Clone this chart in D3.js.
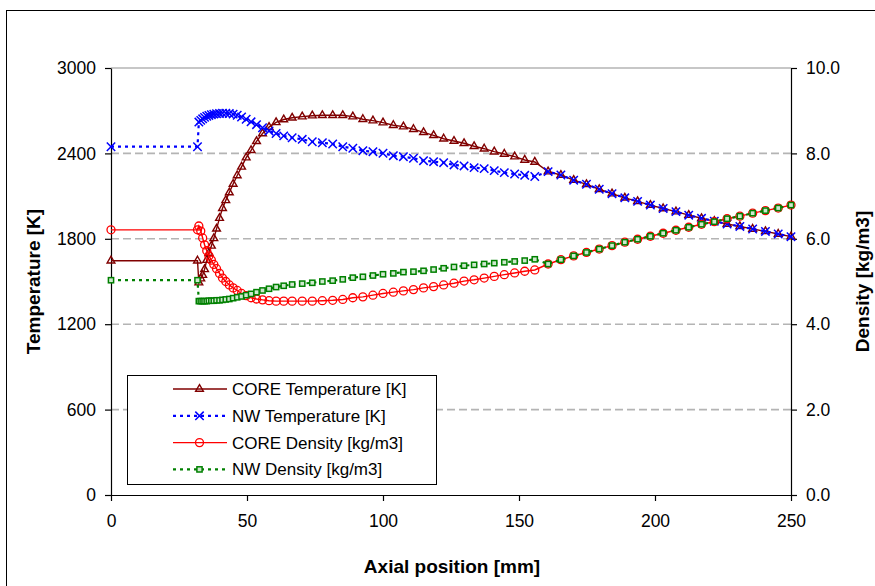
<!DOCTYPE html>
<html>
<head>
<meta charset="utf-8">
<script src="https://cdn.jsdelivr.net/npm/d3@7"></script>
<style>
  body { margin: 0; background: #fff; }
  svg { display: block; }
  text { font-family: "Liberation Sans", Arial, Helvetica, sans-serif; fill: #000; }
</style>
</head>
<body>
<svg id="chart" width="875" height="586"></svg>
<script>
// Axial positions [mm]: inlet section, then the computed flow nodes
const inletMm = [0, 31.8];
const flowMm = [
  32.3, 33.0, 33.7, 34.4, 35.2, 36.0, 36.9, 37.8, 38.8, 39.9, 41.0, 42.2,
  43.5, 44.9, 46.4, 48.0, 49.7, 51.5, 53.5, 55.7, 58.1, 60.7, 63.5, 66.6,
  70.3, 74.0, 77.7, 81.5, 85.2, 88.9, 92.6, 96.3, 100.0, 103.8, 107.5, 111.2,
  114.9, 118.6, 122.3, 126.1, 129.8, 133.5, 137.2, 140.9, 144.6, 148.4, 152.1, 155.8,
  160.7, 165.4, 170.1, 174.8, 179.5, 184.2, 188.9, 193.6, 198.3, 203.0,
  207.7, 212.4, 217.1, 221.8, 226.5, 231.2, 235.9, 240.6, 245.3, 250.0
];

// CORE temperature [K]
const coreTempInlet = [1646, 1646];
const coreTemp = [
  1492, 1520, 1545, 1585, 1650, 1700, 1750, 1803, 1870, 1945, 2015, 2070,
  2125, 2185, 2245, 2305, 2370, 2422, 2485, 2540, 2585, 2618, 2638, 2650,
  2658, 2665, 2668, 2668, 2668, 2658, 2640, 2630, 2616, 2598, 2588, 2570,
  2548, 2527, 2503, 2487, 2471, 2450, 2433, 2412, 2396, 2377, 2354, 2340,
  2272, 2248, 2212, 2183, 2148, 2117, 2088, 2063, 2037, 2013,
  1991, 1966, 1944, 1924, 1904, 1887, 1869, 1852, 1834, 1815
];

// NW temperature [K]
const nwTempInlet = [2447, 2447];
const nwTemp = [
  2620, 2632, 2643, 2653, 2661, 2667, 2672, 2676, 2679, 2681, 2682, 2682,
  2680, 2676, 2668, 2656, 2640, 2622, 2602, 2580, 2558, 2540, 2523, 2510,
  2499, 2482, 2475, 2466, 2447, 2436, 2419, 2412, 2401, 2384, 2377, 2366,
  2349, 2342, 2335, 2319, 2312, 2300, 2293, 2279, 2265, 2255, 2246, 2238,
  2272, 2248, 2212, 2183, 2148, 2117, 2088, 2063, 2037, 2013,
  1991, 1966, 1944, 1924, 1904, 1887, 1869, 1852, 1834, 1815
];

// CORE density [kg/m3]
const coreDensInlet = [6.21, 6.21];
const coreDens = [
  6.30, 6.18, 6.02, 5.86, 5.72, 5.60, 5.50, 5.40, 5.30, 5.19, 5.08, 5.00,
  4.92, 4.85, 4.79, 4.72, 4.67, 4.62, 4.59, 4.57, 4.55, 4.54, 4.54, 4.54,
  4.54, 4.54, 4.55, 4.56, 4.58, 4.62, 4.64, 4.68, 4.72, 4.75, 4.78, 4.81,
  4.85, 4.88, 4.92, 4.96, 5.01, 5.04, 5.08, 5.12, 5.16, 5.20, 5.24, 5.27,
  5.41, 5.51, 5.60, 5.68, 5.76, 5.84, 5.92, 5.99, 6.06, 6.13,
  6.20, 6.27, 6.34, 6.40, 6.47, 6.53, 6.60, 6.66, 6.72, 6.79
];

// NW density [kg/m3]
const nwDensInlet = [5.03, 5.03];
const nwDens = [
  4.54, 4.54, 4.54, 4.54, 4.54, 4.55, 4.55, 4.55, 4.56, 4.56, 4.57, 4.58,
  4.59, 4.61, 4.63, 4.65, 4.68, 4.71, 4.75, 4.79, 4.83, 4.87, 4.90, 4.93,
  4.95, 4.97, 5.00, 5.02, 5.05, 5.09, 5.11, 5.14, 5.17, 5.19, 5.22, 5.23,
  5.25, 5.28, 5.31, 5.34, 5.37, 5.39, 5.41, 5.43, 5.45, 5.47, 5.49, 5.52,
  5.41, 5.51, 5.60, 5.68, 5.76, 5.84, 5.92, 5.99, 6.06, 6.13,
  6.20, 6.27, 6.34, 6.40, 6.47, 6.53, 6.60, 6.66, 6.72, 6.79
];

// Tick labels
const xTicks = [0, 50, 100, 150, 200, 250];
const tempTicks = [0, 600, 1200, 1800, 2400, 3000];
const densTicks = [0, 2, 4, 6, 8, 10];

const svg = d3.select("#chart");
const plot = { left: 111, right: 791, top: 68, bottom: 495 };

const x = d3.scaleLinear().domain([0, 250]).range([plot.left, plot.right]);
const yT = d3.scaleLinear().domain([0, 3000]).range([plot.bottom, plot.top]);
const yD = d3.scaleLinear().domain([0, 10]).range([plot.bottom, plot.top]);

// chart area frame
svg.append("rect").attr("x", 6.5).attr("y", 10.5).attr("width", 900).attr("height", 600)
  .attr("fill", "#fff").attr("stroke", "#000").attr("stroke-width", 1);

// horizontal gridlines on the temperature ticks
svg.append("g").selectAll("line").data(tempTicks.filter(t => t > 0)).join("line")
  .attr("x1", plot.left).attr("x2", plot.right)
  .attr("y1", d => yT(d)).attr("y2", d => yT(d))
  .attr("stroke", "#b4b4b4").attr("stroke-width", 1.6)
  .attr("stroke-dasharray", d => d === 3000 ? null : "8,4");

// axes
const fontSize = 17.5;
const axL = svg.append("g").attr("transform", `translate(${plot.left},0)`)
  .call(d3.axisLeft(yT).tickValues(tempTicks).tickSize(6).tickSizeOuter(0).tickPadding(9).tickFormat(d3.format("d")));
const axR = svg.append("g").attr("transform", `translate(${plot.right},0)`)
  .call(d3.axisRight(yD).tickValues(densTicks).tickSize(6).tickSizeOuter(0).tickPadding(9).tickFormat(d3.format(".1f")));
const axB = svg.append("g").attr("transform", `translate(0,${plot.bottom})`)
  .call(d3.axisBottom(x).tickValues(xTicks).tickSize(6).tickSizeOuter(0).tickPadding(14).tickFormat(d3.format("d")));
[axL, axR, axB].forEach(g => {
  g.selectAll("path.domain").attr("stroke", "#000").attr("stroke-width", 1.2);
  g.selectAll(".tick line").attr("stroke", "#000").attr("stroke-width", 1.2);
  g.selectAll(".tick text").attr("font-size", fontSize).attr("fill", "#000")
    .style("font-family", '"Liberation Sans", Arial, sans-serif');
});

// axis titles
svg.append("text").attr("transform", `translate(40,${(plot.top + plot.bottom) / 2}) rotate(-90)`)
  .attr("text-anchor", "middle").attr("font-size", 19).attr("font-weight", "bold")
  .text("Temperature [K]");
svg.append("text").attr("transform", `translate(869,${(plot.top + plot.bottom) / 2}) rotate(-90)`)
  .attr("text-anchor", "middle").attr("font-size", 19).attr("font-weight", "bold")
  .text("Density [kg/m3]");
svg.append("text").attr("x", 452).attr("y", 573)
  .attr("text-anchor", "middle").attr("font-size", 19).attr("font-weight", "bold")
  .text("Axial position [mm]");

// marker painters
function drawTriangle(g, px, py, color) {
  g.append("path").attr("transform", `translate(${px},${py})`)
    .attr("d", d3.symbol(d3.symbolTriangle, 26)())
    .attr("fill", "none").attr("stroke", color).attr("stroke-width", 1.4);
}
function drawCross(g, px, py, color) {
  const s = 4.2;
  g.append("path").attr("d", `M${px - s},${py - s}L${px + s},${py + s}M${px - s},${py + s}L${px + s},${py - s}`)
    .attr("stroke", color).attr("stroke-width", 1.5).attr("fill", "none");
}
function drawCircle(g, px, py, color) {
  g.append("circle").attr("cx", px).attr("cy", py).attr("r", 4)
    .attr("fill", "none").attr("stroke", color).attr("stroke-width", 1.3);
}
function drawSquare(g, px, py, color) {
  g.append("rect").attr("x", px - 2.6).attr("y", py - 2.6).attr("width", 5.2).attr("height", 5.2)
    .attr("fill", "#cfe8cf").attr("stroke", color).attr("stroke-width", 1.5);
}

const series = [
  { name: "CORE Temperature [K]", xs: inletMm.concat(flowMm), ys: coreTempInlet.concat(coreTemp), y: yT,
    color: "#800000", dash: null, width: 1.4, marker: drawTriangle },
  { name: "NW Temperature [K]", xs: inletMm.concat(flowMm), ys: nwTempInlet.concat(nwTemp), y: yT,
    color: "#0000ff", dash: "3,4", width: 2.2, marker: drawCross },
  { name: "CORE Density [kg/m3]", xs: inletMm.concat(flowMm), ys: coreDensInlet.concat(coreDens), y: yD,
    color: "#ff0000", dash: null, width: 1.4, marker: drawCircle },
  { name: "NW Density [kg/m3]", xs: inletMm.concat(flowMm), ys: nwDensInlet.concat(nwDens), y: yD,
    color: "#008000", dash: "3,4", width: 2.2, marker: drawSquare }
];

const marks = svg.append("g");
series.forEach(s => {
  const pts = s.xs.map((v, i) => [x(v), s.y(s.ys[i])]);
  const g = marks.append("g");
  g.append("path").attr("d", d3.line()(pts)).attr("fill", "none")
    .attr("stroke", s.color).attr("stroke-width", s.width)
    .attr("stroke-dasharray", s.dash);
  pts.forEach(p => s.marker(g, p[0], p[1], s.color));
});

// legend
const lg = svg.append("g");
lg.append("rect").attr("x", 127.5).attr("y", 375.5).attr("width", 309).attr("height", 109)
  .attr("fill", "#fff").attr("stroke", "#000").attr("stroke-width", 1);
series.forEach((s, i) => {
  const cy = 389 + i * 26.8;
  lg.append("line").attr("x1", 173).attr("x2", 227).attr("y1", cy).attr("y2", cy)
    .attr("stroke", s.color).attr("stroke-width", s.width).attr("stroke-dasharray", s.dash);
  s.marker(lg, 199.5, cy, s.color);
  lg.append("text").attr("x", 232).attr("y", cy + 6).attr("font-size", 17).text(s.name);
});
</script>
</body>
</html>
